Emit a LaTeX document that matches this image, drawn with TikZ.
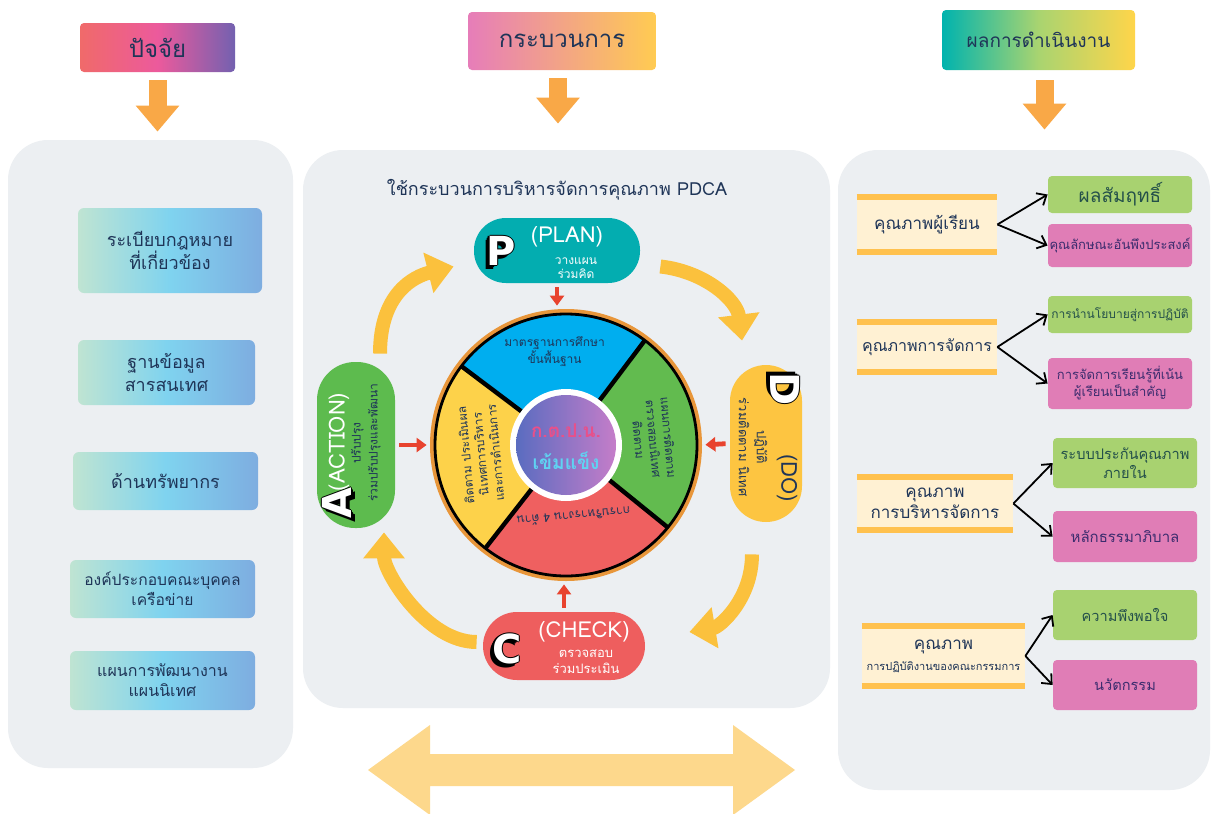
\documentclass[tikz,border=0pt]{standalone}
\usepackage{fontspec}
\setmainfont{Loma}[Script=Thai]
\newfontfamily\bigfont{DejaVu Sans}
\usetikzlibrary{arrows.meta}

\definecolor{panelgray}{HTML}{ECEFF2}
\definecolor{navy}{HTML}{1F3558}
\definecolor{hA}{HTML}{F06A6A}
\definecolor{hB}{HTML}{EC5A9C}
\definecolor{hC}{HTML}{7361B0}
\definecolor{hD}{HTML}{E67DB9}
\definecolor{hE}{HTML}{FFCB52}
\definecolor{hF}{HTML}{00B3AE}
\definecolor{hG}{HTML}{A9D470}
\definecolor{hH}{HTML}{FFD54A}
\definecolor{facA}{HTML}{BFE4D2}
\definecolor{facB}{HTML}{7FD3EF}
\definecolor{facC}{HTML}{7EADE0}
\definecolor{arroworange}{HTML}{F9A847}
\definecolor{arrowred}{HTML}{E8432E}
\definecolor{cycyellow}{HTML}{FBC13D}
\definecolor{pteal}{HTML}{03ADB0}
\definecolor{agreen}{HTML}{5DBB4E}
\definecolor{dyellow}{HTML}{FDC541}
\definecolor{cred}{HTML}{EE5E5E}
\definecolor{segblue}{HTML}{00AEEF}
\definecolor{seggreen}{HTML}{62BB4F}
\definecolor{segred}{HTML}{EF6060}
\definecolor{segyellow}{HTML}{FDD24A}
\definecolor{ringorange}{HTML}{E8963A}
\definecolor{innerA}{HTML}{5A6CC0}
\definecolor{innerB}{HTML}{C57DC9}
\definecolor{kpink}{HTML}{E8508A}
\definecolor{kcyan}{HTML}{5FD3F2}
\definecolor{cream}{HTML}{FFF1D3}
\definecolor{barorange}{HTML}{FFC14E}
\definecolor{boxgreen}{HTML}{A8D270}
\definecolor{boxpink}{HTML}{E07DB6}
\definecolor{greentext}{HTML}{24504A}
\definecolor{pinktext}{HTML}{3B2C6E}
\definecolor{bigarrow}{HTML}{FDD88C}

\tikzset{
  panel/.style={fill=panelgray, rounded corners=20pt, inner sep=0pt},
  hdr/.style={rounded corners=2pt, text=navy, inner sep=0pt, font=\fontsize{12}{14}\selectfont},
  factor/.style={rounded corners=3pt, left color=facA, right color=facC, middle color=facB,
    text=navy, align=center, inner sep=0pt, font=\fontsize{9}{11.5}\selectfont},
  downarrow/.style={draw=arroworange, line width=9pt, -{Triangle[width=21pt,length=13pt]}},
  redarrow/.style={draw=arrowred, line width=2.4pt, -{Triangle[width=7pt,length=5pt]},
    shorten <=2pt, shorten >=2pt},
  cyc/.style={draw=cycyellow, line width=7pt, -{Triangle[width=20pt,length=13pt]}},
  bigl/.style={font=\bigfont\bfseries\fontsize{20}{20}\selectfont, text=white, inner sep=0pt},
  seg/.style={text=navy, align=center, inner sep=0pt, font=\fontsize{6}{7.5}\selectfont},
  qlabel/.style={fill=cream, text=navy, align=center, inner sep=0pt, font=\fontsize{8.5}{10.5}\selectfont},
  bar/.style={draw=barorange, line width=3pt},
  rgreen/.style={fill=boxgreen, rounded corners=2pt, text=greentext, align=center,
    minimum width=72pt, inner sep=0pt, font=\fontsize{6.5}{8.5}\selectfont},
  rpink/.style={fill=boxpink, rounded corners=2pt, text=pinktext, align=center,
    minimum width=72pt, inner sep=0pt, font=\fontsize{6.5}{8.5}\selectfont},
  rarrow/.style={draw=black, line width=0.9pt, -{Straight Barb[length=4pt,width=7pt]}},
}

\begin{document}
\begin{tikzpicture}[x=0.5pt, y=-0.5pt]
    \useasboundingbox (0,0) rectangle (1211,814);
    \fill[white] (0,0) rectangle (1211,814);

    % panels
    \node[panel, minimum width=142.5pt, minimum height=314pt] (panL) at (150.5,454) {};
    \node[panel, minimum width=263.5pt, minimum height=279pt] (panC) at (566.5,429) {};
    \node[panel, minimum width=186pt, minimum height=320pt] (panR) at (1024,470) {};

    % headers
    \node[hdr, left color=hA, right color=hC, middle color=hB,
          minimum width=77.5pt, minimum height=24.5pt] (hfac) at (157.5,47.5) {ปัจจัย};
    \node[hdr, left color=hD, right color=hE,
          minimum width=94pt, minimum height=29pt] (hpro) at (562,41) {กระบวนการ};
    \node[hdr, left color=hF, right color=hH, middle color=hG, font=\fontsize{9.5}{11}\selectfont,
          minimum width=96.5pt, minimum height=30pt] (hres) at (1038.5,40) {ผลการดำเนินงาน};
    \draw[downarrow, shorten >=4pt] ([yshift=-4pt]hfac.south) -- (hfac.south |- panL.north);
    \draw[downarrow, shorten >=13pt] ([xshift=-2pt,yshift=-4pt]hpro.south) -- ([xshift=-2pt]hpro.south |- panC.north);
    \draw[downarrow, shorten >=10pt] ([xshift=3pt,yshift=-5pt]hres.south) -- ([xshift=3pt]hres.south |- panR.north);

    % ปัจจัย
    \node[factor, minimum width=92pt, minimum height=42.5pt] (f1) at (170,250.5) {ระเบียบกฎหมาย\\ที่เกี่ยวข้อง};
    \node[factor, minimum width=88.5pt, minimum height=32.5pt] (f2) at (166.5,372.5) {ฐานข้อมูล\\สารสนเทศ};
    \node[factor, minimum width=92.5pt, minimum height=29pt] (f3) at (165.5,481) {ด้านทรัพยากร};
    \node[factor, minimum width=92.5pt, minimum height=29pt, font=\fontsize{7.8}{10}\selectfont] (f4) at (162.5,589) {องค์ประกอบคณะบุคคล\\เครือข่าย};
    \node[factor, minimum width=92.5pt, minimum height=29.5pt, font=\fontsize{8}{10}\selectfont] (f5) at (162.5,680.5) {แผนการพัฒนางาน\\แผนนิเทศ};

    % กระบวนการ PDCA
    \node[text=navy, font=\fontsize{9}{11}\selectfont] (title) at (557,190) {ใช้กระบวนการบริหารจัดการคุณภาพ PDCA};

    \begin{scope}[shift={(566,445)}]
        \fill[ringorange] (0,0) circle[radius=68pt];
        \fill[segblue] (0,0) -- (53:65.5pt) arc[start angle=53, end angle=143, radius=65.5pt] -- cycle;
        \fill[segyellow] (0,0) -- (143:65.5pt) arc[start angle=143, end angle=232, radius=65.5pt] -- cycle;
        \fill[segred] (0,0) -- (232:65.5pt) arc[start angle=232, end angle=321, radius=65.5pt] -- cycle;
        \fill[seggreen] (0,0) -- (321:65.5pt) arc[start angle=321, end angle=413, radius=65.5pt] -- cycle;
        \draw[line width=1.4pt] (0,0) circle[radius=65.5pt];
        \foreach \a in {53,143,232,321}
            \draw[line width=2.2pt] (\a:26pt) -- (\a:65.5pt);
        \fill[white] (0,0) circle[radius=28pt];
        \shade[left color=innerA, right color=innerB] (0,0) circle[radius=25pt];
        \node[seg] (sblue) at (97:47pt) {มาตรฐานการศึกษา\\ขั้นพื้นฐาน};
        \node[seg, rotate=95] (syellow) at (186:43pt) {ติดตาม ประเมินผล\\นิเทศการบริหาร\\และการดำเนินการ};
        \node[seg, rotate=185] (sred) at (276:36pt) {การบริหารงาน 4 ด้าน};
        \node[seg, rotate=-85] (sgreen) at (4:44pt) {แผนการติดตาม\\ตรวจสอบนิเทศ\\ติดตาม};
        \node[text=kpink, font=\bfseries\fontsize{9.5}{11}\selectfont, inner sep=0pt] (kt) at (0,7pt) {ก.ต.ป.น.};
        \node[text=kcyan, font=\bfseries\fontsize{9.5}{11}\selectfont, inner sep=0pt] (kk) at (0,-8pt) {เข้มแข็ง};
    \end{scope}
    \node[circle, minimum size=135pt, inner sep=0pt] (wheel) at (566,445) {};

    % P D C A
    \node[fill=pteal, rounded corners=16pt, minimum width=83pt, minimum height=32.5pt] (P) at (557,250.5) {};
    \node[fill=dyellow, rounded corners=18pt, minimum width=36pt, minimum height=78.5pt] (D) at (766,443.5) {};
    \node[fill=cred, rounded corners=17pt, minimum width=81pt, minimum height=34pt] (C) at (564,646) {};
    \node[fill=agreen, rounded corners=19pt, minimum width=39pt, minimum height=83pt] (A) at (356,445) {};

    \foreach \l/\px/\py/\r in {P/501/251/0, C/507/649/0, A/337/503/90, D/785/389/-90} {
        \foreach \dx/\dy [count=\k] in {-1.8/-1.8, -1.2/-1.2, -0.7/-0.7, 0.7/0, -0.7/0, 0/0.7, 0/-0.7}
            \node[bigl, text=black, rotate=\r, xshift=\dx pt, yshift=\dy pt] (\l-sh\k) at (\px,\py) {\l};
        \node[bigl, rotate=\r] (\l-let) at (\px,\py) {\l};
    }
    \node[text=white, font=\fontsize{11}{12}\selectfont, inner sep=0pt] (plan) at (567,237) {(PLAN)};
    \node[text=white, align=center, font=\fontsize{6}{7}\selectfont, inner sep=0pt] (plan-t) at (576,268) {วางแผน\\ร่วมคิด};
    \node[text=white, font=\fontsize{11}{12}\selectfont, inner sep=0pt] (check) at (584,632) {(CHECK)};
    \node[text=white, align=center, font=\fontsize{6.5}{8}\selectfont, inner sep=0pt] (check-t) at (586,662) {ตรวจสอบ\\ร่วมประเมิน};
    \node[text=white, rotate=90, font=\fontsize{11}{12}\selectfont, inner sep=0pt] (action) at (339,442) {(ACTION)};
    \node[text=navy, rotate=90, align=center, font=\fontsize{6}{8.5}\selectfont, inner sep=0pt] (action-t) at (366,443) {ปรับปรุง\\ร่วมปรับปรุงและพัฒนา};
    \node[text=navy, rotate=-90, font=\fontsize{11}{12}\selectfont, inner sep=0pt] (do) at (787,478) {(DO)};
    \node[text=navy, rotate=-90, align=center, font=\fontsize{6.5}{9}\selectfont, inner sep=0pt] (do-t) at (753,447) {ปฏิบัติ\\ร่วมติดตาม นิเทศ};

    % ลูกศร
    \draw[redarrow] (P.south) -- (P.south |- wheel.north);
    \draw[redarrow] (A.east) -- (wheel.west);
    \draw[redarrow] (D.west) -- (wheel.east);
    \draw[redarrow] (C.north) -- (C.north |- wheel.south);

    \draw[cyc] ([xshift=12pt,yshift=4pt]A.north) .. controls +(0,-60) and +(-40,10) .. ([xshift=-10pt,yshift=-8pt]P.west);
    \draw[cyc] ([xshift=10pt,yshift=-8pt]P.east) .. controls +(45,5) and +(-5,-40) .. ([xshift=-12pt,yshift=12pt]D.north);
    \draw[cyc] ([xshift=-7pt,yshift=-16pt]D.south) .. controls +(0,45) and +(30,-5) .. ([xshift=22pt,yshift=7pt]C.east);
    \draw[cyc] ([xshift=-3pt,yshift=2pt]C.west) .. controls +(-50,0) and +(0,40) .. ([xshift=14pt,yshift=-2pt]A.south);

    \fill[bigarrow] (368,770) -- (430,725) -- (430,754) -- (733,754) -- (733,725) -- (795,770)
        -- (733,815) -- (733,786) -- (430,786) -- (430,815) -- cycle;

    % ผลการดำเนินงาน
    \node[qlabel, minimum width=70pt, minimum height=27.5pt] (q1) at (927,224.5) {คุณภาพผู้เรียน};
    \node[qlabel, minimum width=70pt, minimum height=25pt, font=\fontsize{8}{10}\selectfont] (q2) at (927,347) {คุณภาพการจัดการ};
    \node[qlabel, minimum width=78pt, minimum height=26.5pt] (q3) at (935,503.5) {คุณภาพ\\การบริหารจัดการ};
    \node[qlabel, minimum width=81.5pt, minimum height=30pt] (q4) at (943.5,656) {คุณภาพ\\{\fontsize{5.5}{7}\selectfont การปฏิบัติงานของคณะกรรมการ}};
    \foreach \q in {q1,q2,q3,q4}
        \draw[bar] (\q.north west) -- (\q.north east) (\q.south west) -- (\q.south east);

    \node[rgreen, minimum height=18.5pt, font=\fontsize{9.5}{11}\selectfont] (r1) at (1120,194.5) {ผลสัมฤทธิ์};
    \node[rpink, minimum height=21.5pt] (r2) at (1120,245.5) {คุณลักษณะอันพึงประสงค์};
    \node[rgreen, minimum height=18.5pt, font=\fontsize{6}{8}\selectfont] (r3) at (1120,314.5) {การนำนโยบายสู่การปฏิบัติ};
    \node[rpink, minimum height=25.5pt] (r4) at (1120,383.5) {การจัดการเรียนรู้ที่เน้น\\ผู้เรียนเป็นสำคัญ};
    \node[rgreen, minimum height=25pt, font=\fontsize{7.3}{9.5}\selectfont] (r5) at (1125,463) {ระบบประกันคุณภาพ\\ภายใน};
    \node[rpink, minimum height=25.5pt, font=\fontsize{7.5}{9}\selectfont] (r6) at (1125,536.5) {หลักธรรมาภิบาล};
    \node[rgreen, minimum height=25pt, font=\fontsize{7.3}{9}\selectfont] (r7) at (1125,615) {ความพึงพอใจ};
    \node[rpink, minimum height=25pt, font=\fontsize{7.3}{9}\selectfont] (r8) at (1125,685) {นวัตกรรม};

    \foreach \q/\a/\b in {q1/r1/r2, q2/r3/r4, q3/r5/r6, q4/r7/r8} {
        \draw[rarrow] (\q.east) -- (\a.west);
        \draw[rarrow] (\q.east) -- (\b.west);
    }
\end{tikzpicture}
\end{document}
